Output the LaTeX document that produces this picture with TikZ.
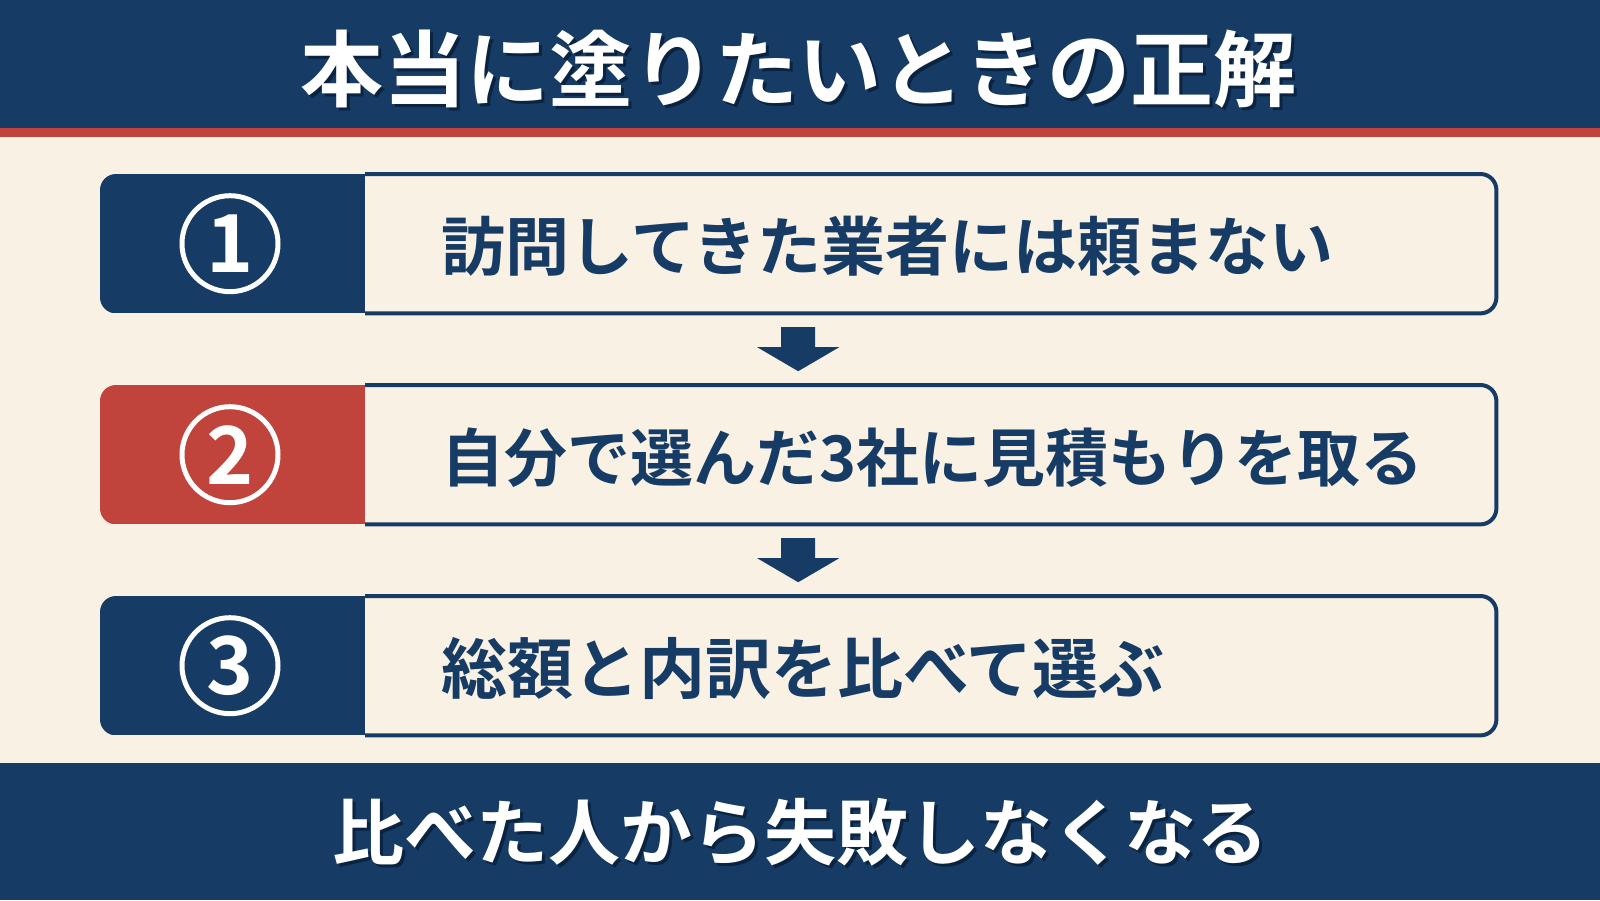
\documentclass[tikz,border=0pt]{standalone}
\usepackage{fontspec}
\newfontfamily\jp{Noto Sans CJK JP Bold}
\usetikzlibrary{calc}
\definecolor{navy}{HTML}{163B64}
\definecolor{redc}{HTML}{C0443C}
\definecolor{cream}{HTML}{FAF1E5}
\definecolor{shadow}{HTML}{0A2340}
\tikzset{
  banner/.style={text=white, font=\jp\fontsize{83}{90}\selectfont, inner sep=0},
  stepbox/.style={minimum width=1396, minimum height=139, anchor=north west, inner sep=0},
  numring/.style={circle, draw=white, line width=5, minimum size=96, inner sep=0},
  numtxt/.style={text=white, font=\jp\fontsize{80}{80}\selectfont, inner sep=0},
  steptxt/.style={text=navy, anchor=west, inner sep=0},
  downarrow/.style={fill=navy},
}
\begin{document}
\begin{tikzpicture}[x=1pt,y=-1pt]
\useasboundingbox (0,0) rectangle (1600,900);
\fill[cream] (0,0) rectangle (1600,900);
% top banner
\fill[navy] (0,0) rectangle (1600,128);
\fill[redc] (0,128) rectangle (1600,137);
\node[banner, text=shadow] at (801,72) {本当に塗りたいときの正解};
\node[banner] (title) at (798,69) {本当に塗りたいときの正解};
% bottom banner
\fill[navy] (0,763) rectangle (1600,900);
\node[banner, text=shadow, font=\jp\fontsize{72}{80}\selectfont] at (803,835) {比べた人から失敗しなくなる};
\node[banner, font=\jp\fontsize{72}{80}\selectfont] (footer) at (800,832) {比べた人から失敗しなくなる};
% steps
\foreach \i/\top/\col/\fs/\txt in {1/174/navy/64/訪問してきた業者には頼まない,
                               2/385/redc/63/自分で選んだ3社に見積もりを取る,
                               3/596/navy/66/総額と内訳を比べて選ぶ}{
  \node[stepbox] (b\i) at (100,\top) {};
  \begin{scope}
    \clip[rounded corners=16] (b\i.north west) rectangle (b\i.south east);
    \fill[\col] (b\i.north west) rectangle ($(b\i.south west)+(265,0)$);
  \end{scope}
  \draw[navy, line width=4, rounded corners=16]
    ($(b\i.north west)+(265,0)$) -- (b\i.north east) -- (b\i.south east) -- ($(b\i.south west)+(265,0)$);
  \node[numring] (c\i) at ($(b\i.west)+(130,0)$) {};
  \node[numtxt] (n\i) at (c\i.center) {\i};
  \node[steptxt, font=\jp\fontsize{\fs}{70}\selectfont] (t\i) at ($(b\i.west)+(341,3)$) {\txt};
}
% arrows between boxes
\foreach \a/\b in {1/2,2/3}{
  \coordinate (m\a) at ($(b\a.south)!0.5!(b\b.north)$);
  \fill[downarrow] ($(m\a)+(-17,-22)$) -- ($(m\a)+(17,-22)$) -- ($(m\a)+(17,-2)$)
    -- ($(m\a)+(41,-2)$) -- ($(m\a)+(0,22)$) -- ($(m\a)+(-41,-2)$) -- ($(m\a)+(-17,-2)$) -- cycle;
}
\end{tikzpicture}
\end{document}
